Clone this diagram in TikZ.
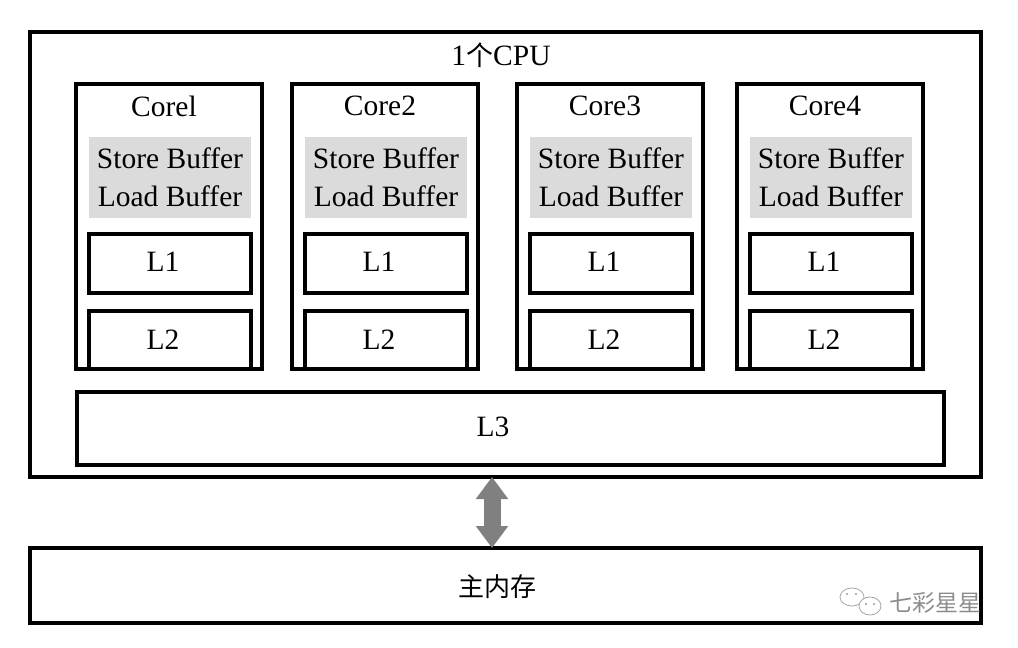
\documentclass[tikz,border=0pt]{standalone}
\usepackage{fontspec}
\setmainfont{Liberation Serif}
\newfontfamily\cjk{Noto Sans CJK SC}
\usetikzlibrary{arrows.meta}
\begin{document}
\begin{tikzpicture}[x=1pt,y=-1pt,
  box/.style={draw, line width=3.2pt, inner sep=0pt, outer sep=0pt},
  txt/.style={font=\fontsize{29.5}{38}\selectfont, align=center, inner sep=0pt},
  buf/.style={fill=black!14, inner sep=0pt, outer sep=0pt, minimum width=162pt, minimum height=81pt, font=\fontsize{29.5}{38}\selectfont, align=center},
  bigarrow/.style={line width=17pt, draw=black!50, {Triangle[length=22pt,width=31pt]}-{Triangle[length=22pt,width=31pt]}},
  wmline/.style={draw=black!35, line width=0.8pt}]
\useasboundingbox (0,0) rectangle (1018,648);
\fill[white] (0,0) rectangle (1018,648);
% CPU
\node[box, minimum width=951pt, minimum height=445pt] (cpu) at (505.5,254.5) {};
\node[txt] (cpulabel) at (501,55) {1{\cjk\fontsize{27}{30}\selectfont 个}CPU};
% cores
\foreach \x/\lab/\n in {76/Corel/1, 292/Core2/2, 517/Core3/3, 737/Core4/4}{
  \node[box, minimum width=186pt, minimum height=285pt] (core\n) at (\x+93,226.5) {};
  \node[txt] (corelab\n) at (\x+88,106) {\lab};
  \node[buf] (buf\n) at (\x+94,177.5) {Store Buffer\\Load Buffer};
  \node[box, minimum width=162pt, minimum height=59pt] (l1\n) at (\x+94,263.5) {};
  \node[txt] (l1lab\n) at (\x+87,262) {L1};
  \node[box, minimum width=162pt, minimum height=58pt] (l2\n) at (\x+94,340) {};
  \node[txt] (l2lab\n) at (\x+87,340) {L2};
}
% L3
\node[box, minimum width=867pt, minimum height=73pt] (l3) at (510.5,428.5) {};
\node[txt] (l3lab) at (493,427) {L3};
% memory
\node[box, minimum width=951pt, minimum height=75pt] (mem) at (505.5,585.5) {};
\node[font=\cjk\fontsize{26}{30}\selectfont, inner sep=0pt] (memlab) at (497,587) {主内存};
% arrow
\draw[bigarrow] ([xshift=-13.5pt]cpu.south) -- ([xshift=-13.5pt]mem.north);
% watermark
\node[font=\cjk\fontsize{23}{28}\selectfont, text=black!45, inner sep=0pt] (wm) at (935,603) {七彩星星};
\draw[wmline] (852,597) ellipse [x radius=12, y radius=9];
\draw[wmline, fill=white] (870,606) ellipse [x radius=11, y radius=9];
\foreach \p in {(847,594),(856,594),(866,604),(874,604)} \fill[black!40] \p circle (1.2);
\end{tikzpicture}
\end{document}
